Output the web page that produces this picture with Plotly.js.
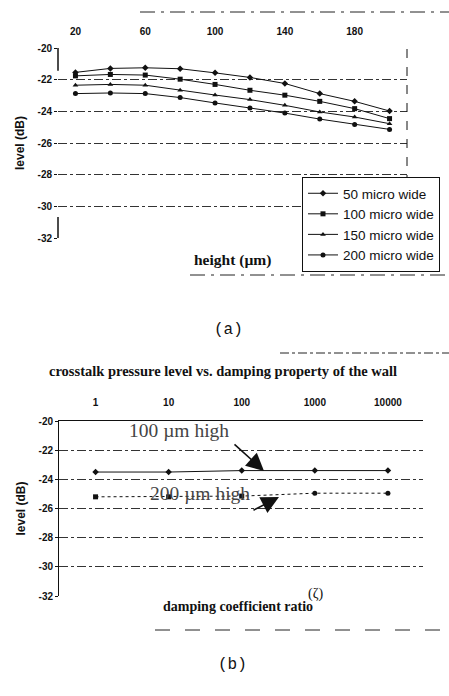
<!DOCTYPE html>
<html>
<head>
<meta charset="utf-8">
<script src="https://cdn.plot.ly/plotly-3.0.1.min.js"></script>
<style>html,body{margin:0;padding:0;background:#fff;}#chart{width:449px;height:696px;}</style>
</head>
<body>
<div id="chart"></div>
<script>
// ---- data: chart (a) ----
var heights = [20, 40, 60, 80, 100, 120, 140, 160, 180, 200];
var wide50  = [-21.54, -21.29, -21.25, -21.31, -21.57, -21.86, -22.24, -22.88, -23.37, -23.98];
var wide100 = [-21.76, -21.67, -21.71, -21.97, -22.30, -22.67, -22.98, -23.37, -23.83, -24.46];
var wide150 = [-22.35, -22.30, -22.35, -22.67, -22.97, -23.26, -23.62, -24.04, -24.36, -24.78];
var wide200 = [-22.88, -22.84, -22.88, -23.13, -23.47, -23.79, -24.11, -24.49, -24.83, -25.14];
var seriesNames = ['50 micro wide', '100 micro wide', '150 micro wide', '200 micro wide'];
var heightTicks = [20, 60, 100, 140, 180];

// ---- data: chart (b) ----
var damping = [1, 10, 100, 1000, 10000];
var high100 = [-23.5, -23.5, -23.4, -23.4, -23.4];
var high200 = [-25.2, -25.2, -25.15, -24.95, -24.95];
var dampingTicks = [1, 10, 100, 1000, 10000];

var levelTickVals = [-20, -22, -24, -26, -28, -30, -32];
var levelTickText = ['-20', '-22', '-24', '-26', '-28', '-30', '-32'];

var ink = '#111';
var tickFont = {family: 'Liberation Sans, Arial, sans-serif', size: 10, color: ink, weight: 'bold'};
var symbols = ['diamond', 'square', 'triangle-up', 'circle'];
var seriesA = [wide50, wide100, wide150, wide200];

var traces = [];
seriesA.forEach(function (vals, i) {
  traces.push({
    x: heights, y: vals, name: seriesNames[i], type: 'scatter', mode: 'lines+markers',
    xaxis: 'x', yaxis: 'y',
    line: {color: ink, width: 1},
    marker: {symbol: symbols[i], size: 5, color: ink},
    showlegend: true
  });
});
traces.push({
  x: damping, y: high100, name: '100 µm high', type: 'scatter', mode: 'lines+markers',
  xaxis: 'x2', yaxis: 'y2', line: {color: ink, width: 1},
  marker: {symbol: 'diamond', size: 5, color: ink}, showlegend: false
});
traces.push({
  x: damping, y: high200, name: '200 µm high', type: 'scatter', mode: 'lines+markers',
  xaxis: 'x2', yaxis: 'y2', line: {color: ink, width: 1, dash: 'dot'},
  marker: {symbol: ['square', 'square', 'square', 'circle', 'circle'], size: 5, color: ink}, showlegend: false
});

var W = 449, H = 696;
function px(x) { return x / W; }
function py(y) { return 1 - y / H; }

var gridStyle = {showgrid: true, gridcolor: '#333', gridwidth: 1, griddash: 'dashdot'};
var serif = 'Liberation Serif, Times New Roman, serif';
var sans = 'Liberation Sans, Arial, sans-serif';

var layout = {
  width: W, height: H,
  margin: {l: 0, r: 0, t: 0, b: 0, autoexpand: false},
  paper_bgcolor: '#fff', plot_bgcolor: '#fff',
  showlegend: true,
  xaxis: {
    domain: [px(58), px(407)], anchor: 'y', side: 'top', range: [10, 210],
    tickvals: heightTicks, ticks: '', tickfont: tickFont, ticklabelstandoff: 10,
    showgrid: false, zeroline: false, showline: false
  },
  yaxis: Object.assign({
    domain: [py(238), py(48)], anchor: 'x', range: [-32, -20],
    tickvals: levelTickVals, ticktext: levelTickText, ticks: 'outside', ticklen: 3, tickcolor: ink,
    tickfont: tickFont, zeroline: false, showline: false,
    title: {text: 'level (dB)', font: {family: sans, size: 12, color: ink, weight: 'bold'}, standoff: 10}
  }, gridStyle),
  xaxis2: {
    domain: [px(59), px(423)], anchor: 'y2', side: 'top', type: 'log', range: [-0.5, 4.48],
    tickvals: dampingTicks, ticktext: dampingTicks.map(String), ticks: '', tickfont: tickFont, ticklabelstandoff: 10,
    showgrid: false, zeroline: false, showline: true, linecolor: ink, linewidth: 1
  },
  yaxis2: Object.assign({
    domain: [py(596), py(421)], anchor: 'x2', range: [-32, -20],
    tickvals: levelTickVals, ticktext: levelTickText, ticks: 'outside', ticklen: 3, tickcolor: ink,
    tickfont: tickFont, zeroline: false, showline: true, linecolor: ink, linewidth: 1,
    title: {text: 'level (dB)', font: {family: sans, size: 12, color: ink, weight: 'bold'}, standoff: 10}
  }, gridStyle),
  legend: {
    x: px(302), y: py(177), xanchor: 'left', yanchor: 'top',
    bgcolor: '#fff', bordercolor: ink, borderwidth: 1,
    font: {family: sans, size: 13.5, color: ink},
    itemwidth: 30, tracegroupgap: 0
  },
  annotations: [
    {text: 'height (µm)', xref: 'paper', yref: 'paper', x: px(232), y: py(260), showarrow: false,
     font: {family: serif, size: 15.5, color: ink, weight: 'bold'}},
    {text: '(a)', xref: 'paper', yref: 'paper', x: px(228), y: py(330), showarrow: false,
     font: {family: 'Liberation Mono, Courier New, monospace', size: 16, color: ink}},
    {text: 'crosstalk pressure level vs. damping property of the wall', xref: 'paper', yref: 'paper',
     x: px(223), y: py(371), showarrow: false,
     font: {family: serif, size: 14.5, color: ink, weight: 'bold'}},
    {text: 'damping coefficient ratio', xref: 'paper', yref: 'paper', x: px(238), y: py(616), showarrow: false,
     font: {family: serif, size: 14, color: ink, weight: 'bold'}},
    {text: '(ζ)', xref: 'paper', yref: 'paper', x: px(325), y: py(604), showarrow: false,
     font: {family: serif, size: 14, color: ink}},
    {text: '(b)', xref: 'paper', yref: 'paper', x: px(232), y: py(676), showarrow: false,
     font: {family: 'Liberation Mono, Courier New, monospace', size: 16, color: ink}},
    {text: '100 µm high', xref: 'paper', yref: 'paper', x: px(179), y: py(430), showarrow: false,
     font: {family: serif, size: 19.5, color: '#444'}},
    {text: '200 µm high', xref: 'paper', yref: 'paper', x: px(200), y: py(506), showarrow: false,
     font: {family: serif, size: 19.5, color: '#444'}},
    {text: '', xref: 'paper', yref: 'paper', x: px(264), y: py(471), ax: px(233), ay: py(443),
     axref: 'paper', ayref: 'paper', showarrow: true, arrowhead: 2, arrowsize: 2.2, arrowwidth: 1.6, arrowcolor: ink},
    {text: '', xref: 'paper', yref: 'paper', x: px(279), y: py(497), ax: px(252), ay: py(511),
     axref: 'paper', ayref: 'paper', showarrow: true, arrowhead: 2, arrowsize: 2.2, arrowwidth: 1.6, arrowcolor: ink}
  ],
  shapes: [
    {type: 'line', xref: 'x domain', yref: 'y domain', x0: 1, x1: 1, y0: 0, y1: 1, line: {color: ink, width: 1, dash: 'dash'}},
    {type: 'line', xref: 'x domain', yref: 'y domain', x0: 0, x1: 0, y0: 0.88, y1: 1, line: {color: ink, width: 1.5}},
    {type: 'line', xref: 'x domain', yref: 'y domain', x0: 0, x1: 0, y0: 0, y1: 0.11, line: {color: ink, width: 1.5}},
    {type: 'line', xref: 'paper', yref: 'paper', x0: px(140), x1: 1, y0: py(12), y1: py(12), line: {color: '#222', width: 1, dash: 'longdashdot'}},
    {type: 'line', xref: 'paper', yref: 'paper', x0: px(190), x1: 1, y0: py(275), y1: py(275), line: {color: '#222', width: 1, dash: 'longdashdot'}},
    {type: 'line', xref: 'paper', yref: 'paper', x0: px(280), x1: 1, y0: py(353), y1: py(353), line: {color: '#222', width: 1, dash: 'dashdot'}},
    {type: 'line', xref: 'paper', yref: 'paper', x0: px(155), x1: 1, y0: py(630), y1: py(630), line: {color: '#222', width: 1, dash: 'longdash'}}
  ]
};

Plotly.newPlot('chart', traces, layout, {staticPlot: true, displayModeBar: false});
</script>
</body>
</html>
